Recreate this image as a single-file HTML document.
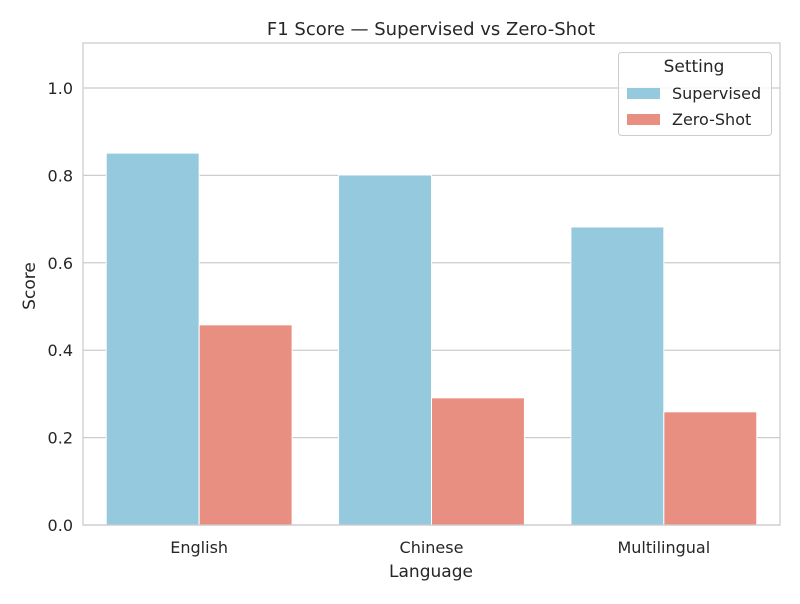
<!DOCTYPE html>
<html><head><meta charset="utf-8"><style>
body{margin:0;background:#fff;font-family:"DejaVu Sans","Liberation Sans",sans-serif;}
svg text{fill:#262626;}
</style></head><body>
<svg id="chart" width="800" height="600" xmlns="http://www.w3.org/2000/svg">
<g id="grid"></g>
<g id="bars"></g>
<rect x="83" y="43" width="697" height="482" fill="none" stroke="#cccccc" stroke-width="1.25"/>
<g id="ticks"></g>
<text x="431" y="35" text-anchor="middle" font-size="18">F1 Score — Supervised vs Zero-Shot</text>
<text x="431" y="577" text-anchor="middle" font-size="17">Language</text>
<text x="35" y="286" text-anchor="middle" font-size="17" transform="rotate(-90 35 286)">Score</text>
<g>
<rect x="618.5" y="52.5" width="153" height="83" rx="3" fill="#fff" fill-opacity="0.8" stroke="#cccccc"/>
<text x="694" y="72" text-anchor="middle" font-size="17">Setting</text>
<rect x="627" y="88" width="33" height="11" fill="#95c9de"/>
<text x="672" y="99" font-size="16">Supervised</text>
<rect x="627" y="114" width="33" height="11" fill="#e88f82"/>
<text x="672" y="125" font-size="16">Zero-Shot</text>
</g>
</svg>
<script>
const categories=["English","Chinese","Multilingual"];
const supervised=[0.851,0.801,0.682];
const zeroShot=[0.458,0.291,0.259];
const yTicks=[0.0,0.2,0.4,0.6,0.8,1.0];
const ns="http://www.w3.org/2000/svg";
const L=83,R=780,T=43,B=525,yMax=1.103;
const y=v=>B-(v/yMax)*(B-T);
const step=(R-L)/categories.length;
const xc=i=>L+step*(i+0.5);
const bw=step*0.4;
function mk(t,a,p){const e=document.createElementNS(ns,t);for(const k in a)e.setAttribute(k,a[k]);p.appendChild(e);return e;}
const grid=document.getElementById('grid'),bars=document.getElementById('bars'),ticks=document.getElementById('ticks');
yTicks.forEach(v=>{
 const l=mk('line',{x1:L,x2:R,y1:y(v),y2:y(v),stroke:'#cccccc','stroke-width':1.25},grid);
 
 
 const t=mk('text',{x:L-10,y:y(v)+6,'text-anchor':'end','font-size':16},ticks);
 t.textContent=v.toFixed(1);
 
 
});
categories.forEach((c,i)=>{
 const b1=mk('rect',{x:xc(i)-bw,y:y(supervised[i]),width:bw,height:B-y(supervised[i]),fill:'#95c9de',stroke:'#fff','stroke-width':1},bars);
 
 
 const b2=mk('rect',{x:xc(i),y:y(zeroShot[i]),width:bw,height:B-y(zeroShot[i]),fill:'#e88f82',stroke:'#fff','stroke-width':1},bars);
 
 
 const t=mk('text',{x:xc(i),y:553,'text-anchor':'middle','font-size':16},ticks);
 t.textContent=c;
 
 
});
</script>
</body></html>
